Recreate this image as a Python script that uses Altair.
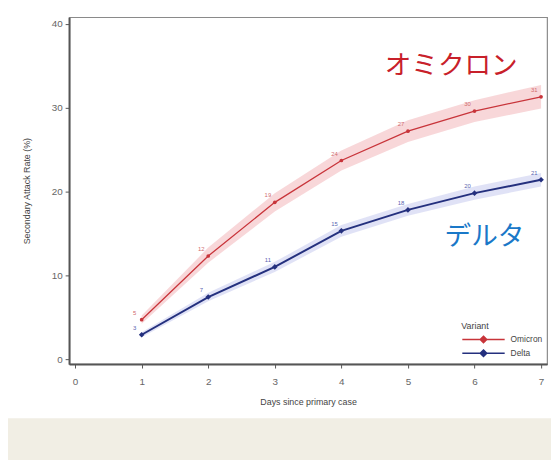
import altair as alt
import pandas as pd

days = [1, 2, 3, 4, 5, 6, 7]
omicron = [4.7, 12.3, 18.7, 23.7, 27.2, 29.6, 31.3]
omicron_lo = [4.2, 11.5, 17.6, 22.5, 25.9, 28.3, 29.9]
omicron_hi = [5.2, 13.3, 19.8, 24.9, 28.5, 30.9, 32.7]
delta = [2.9, 7.4, 11.0, 15.3, 17.8, 19.8, 21.4]
delta_lo = [2.6, 6.9, 10.4, 14.6, 17.1, 19.0, 20.6]
delta_hi = [3.2, 7.9, 11.6, 16.0, 18.5, 20.6, 22.2]
variants = ["Omicron", "Delta"]
x_ticks = [0, 1, 2, 3, 4, 5, 6, 7]
y_ticks = [0, 10, 20, 30, 40]

RED = "#c8343a"
NAVY = "#24307e"
BAND_RED = "#f6cdd0"
BAND_BLUE = "#d8dbf4"

rows = []
for d, v, lo, hi in zip(days, omicron, omicron_lo, omicron_hi):
    rows.append(dict(day=d, rate=v, lo=lo, hi=hi, variant="Omicron",
                     lbl=str(round(v)), band=BAND_RED, lblc="#d06a6e"))
for d, v, lo, hi in zip(days, delta, delta_lo, delta_hi):
    rows.append(dict(day=d, rate=v, lo=lo, hi=hi, variant="Delta",
                     lbl=str(round(v)), band=BAND_BLUE, lblc="#5a66b0"))
df = pd.DataFrame(rows)

W, H = 485, 352
xs = alt.Scale(domain=[-0.09, 7.09], nice=False, zero=False)
ys = alt.Scale(domain=[-0.6, 40.8], nice=False, zero=False)

X = alt.X("day:Q", scale=xs, title="Days since primary case",
          axis=alt.Axis(values=x_ticks, format="d", grid=False, labelPadding=9, titlePadding=11))
Y = alt.Y("rate:Q", scale=ys, title="Secondary Attack Rate (%)",
          axis=alt.Axis(values=y_ticks, format="d", grid=False, labelPadding=3, titlePadding=20))
col = alt.Color("variant:N", scale=alt.Scale(domain=variants, range=[RED, NAVY]),
                sort=variants,
                legend=alt.Legend(title="Variant", orient="bottom-right", offset=4,
                                  symbolType="M-1,0L7.6,0M3.3,-0.65L3.95,0L3.3,0.65L2.65,0Z",
                                  symbolSize=100, symbolStrokeWidth=1.6, labelOffset=38,
                                  titleFontSize=9, labelFontSize=8.5, titleFontWeight="normal",
                                  titleColor="#444", labelColor="#444", rowPadding=0,
                                  titleAnchor="start", titlePadding=3, padding=0))

base = alt.Chart(df)

band = base.mark_area(opacity=0.8).encode(
    x=X, y=alt.Y("lo:Q", scale=ys, title="Secondary Attack Rate (%)"), y2="hi:Q",
    fill=alt.Fill("band:N", scale=None), detail="variant:N")

line_o = base.transform_filter("datum.variant == 'Omicron'").mark_line(strokeWidth=1.3).encode(
    x=X, y=Y, color=col)
line_d = base.transform_filter("datum.variant == 'Delta'").mark_line(strokeWidth=2).encode(
    x=X, y=Y, color=col)
pts_o = base.transform_filter("datum.variant == 'Omicron'").mark_point(
    filled=True, size=14, shape="circle", opacity=1).encode(x=X, y=Y, color=col)
pts_d = base.transform_filter("datum.variant == 'Delta'").mark_point(
    filled=True, size=32, shape="diamond", opacity=1).encode(x=X, y=Y, color=col)

labels = base.mark_text(fontSize=6, dx=-7, dy=-7, font="Liberation Sans").encode(
    x=X, y=Y, text="lbl:N", color=alt.Color("lblc:N", scale=None))

ann_o = alt.Chart(pd.DataFrame({"t": ["オミクロン"]})).mark_text(
    fontSize=27, font="Noto Sans CJK JP", fontWeight=400, color="#c8202a").encode(
    x=alt.datum(5.65), y=alt.datum(35.0), text="t:N")
ann_d = alt.Chart(pd.DataFrame({"t": ["デルタ"]})).mark_text(
    fontSize=27, font="Noto Sans CJK JP", fontWeight=400, color="#1a78c8").encode(
    x=alt.datum(6.15), y=alt.datum(14.6), text="t:N")

beige = alt.Chart(pd.DataFrame({"a": [0]})).mark_rect(color="#f1eee4").encode(
    x=alt.value(-70), x2=alt.value(W + 20), y=alt.value(H + 55), y2=alt.value(H + 100))

chart = alt.layer(band, line_o, line_d, pts_o, pts_d, labels, ann_o, ann_d, beige).properties(
    width=W, height=H,
    autosize=alt.AutoSizeParams(type="none"),
    padding={"left": 62, "top": 6, "right": 4, "bottom": 94},
    background="white",
).configure_view(stroke="#8a8a8a", strokeWidth=1.2).configure_axis(
    domainColor="#555", domainWidth=2, tickColor="#555", tickSize=4, tickWidth=1,
    labelColor="#666", labelFontSize=10, labelFont="Liberation Sans",
    titleColor="#444", titleFontSize=9, titleFontWeight="normal", titleFont="Liberation Sans",
).configure_legend(labelFont="Liberation Sans", titleFont="Liberation Sans")

chart.save("out.html", embed_options={"renderer": "svg", "actions": False})
